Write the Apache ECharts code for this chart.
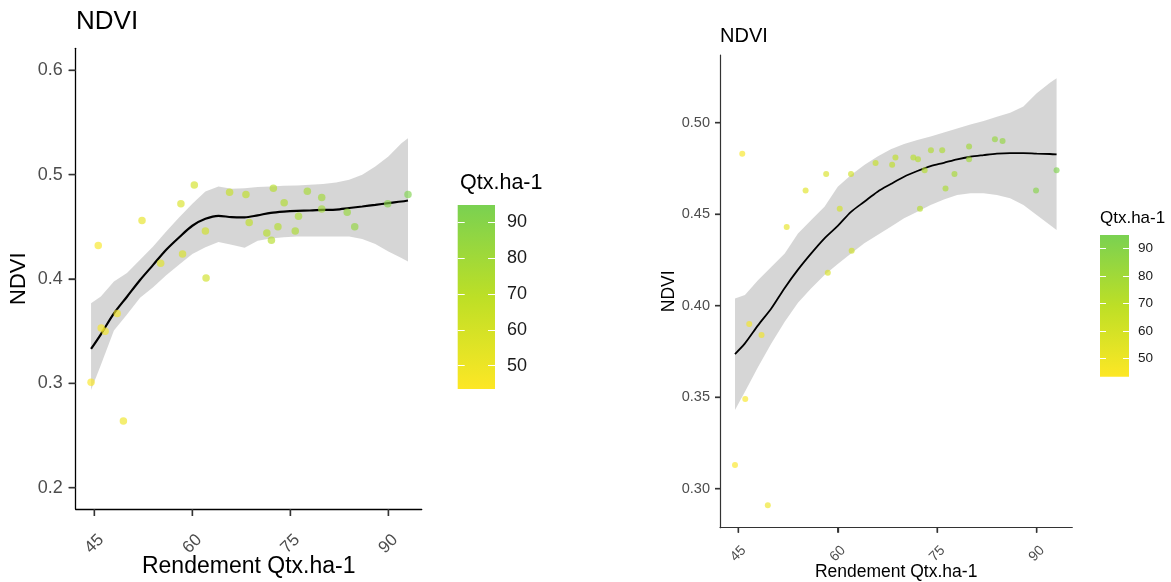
<!DOCTYPE html>
<html>
<head>
<meta charset="utf-8">
<script src="https://cdn.jsdelivr.net/npm/echarts@6/dist/echarts.min.js"></script>
<style>
  html, body { margin: 0; padding: 0; background: #fff; }
  #main { width: 1171px; height: 582px; }
</style>
</head>
<body>
<div id="main"></div>
<script>
// rendement (Qtx/ha), same plots for both panels
var yieldQtx = [44.5, 45.6, 46.05, 46.65, 48.5, 49.45, 52.3, 55.15, 58.25, 58.5, 60.3, 62.0, 62.1, 65.7, 68.2,
  68.7, 71.4, 72.1, 72.4, 73.1, 74.05, 75.75, 76.25, 77.6, 79.8, 79.8, 83.7, 84.85, 89.9, 93.0];
var ndviLeft = [0.301, 0.432, 0.353, 0.350, 0.367, 0.264, 0.456, 0.415, 0.472, 0.424, 0.490, 0.446, 0.401, 0.483, 0.481,
  0.454, 0.444, 0.437, 0.487, 0.450, 0.473, 0.446, 0.460, 0.484, 0.478, 0.467, 0.464, 0.450, 0.472, 0.481];
var ndviRight = [0.313, 0.483, 0.349, 0.390, 0.384, 0.291, 0.443, 0.463, 0.472, 0.418, 0.453, 0.472, 0.430, 0.478, 0.477,
  0.481, 0.481, 0.480, 0.453, 0.474, 0.485, 0.485, 0.464, 0.472, 0.487, 0.480, 0.491, 0.490, 0.463, 0.474];

// smooth curve + confidence band
var fitX = [44.5, 46, 48, 50, 52, 54, 56, 58, 60, 62, 64, 66, 68, 70, 72, 74, 76, 78, 80, 82, 84, 86, 88, 90, 92, 93];
var fitLeft = [0.333, 0.347, 0.367, 0.383, 0.399, 0.4135, 0.428, 0.440, 0.451, 0.4576, 0.4605, 0.4592, 0.459, 0.461,
  0.4634, 0.4646, 0.4653, 0.4656, 0.4662, 0.4665, 0.468, 0.4694, 0.471, 0.4727, 0.4742, 0.4752];
var upLeft = [0.3768, 0.3831, 0.3975, 0.4056, 0.4183, 0.4311, 0.4455, 0.4592, 0.472, 0.4838, 0.4886, 0.4864, 0.487,
  0.488, 0.4886, 0.4892, 0.4895, 0.4902, 0.4911, 0.4924, 0.495, 0.4998, 0.5077, 0.5173, 0.5301, 0.5349];
var lowLeft = [0.2937, 0.3176, 0.3507, 0.366, 0.382, 0.392, 0.4036, 0.4138, 0.4238, 0.4305, 0.4353, 0.4327, 0.4298,
  0.4365, 0.4387, 0.440, 0.4407, 0.4407, 0.4407, 0.4407, 0.4407, 0.4384, 0.4336, 0.4263, 0.42, 0.4168];
var fitRight = [0.3736, 0.3794, 0.3894, 0.3986, 0.4097, 0.4197, 0.4286, 0.4368, 0.4436, 0.4513, 0.4568, 0.4623, 0.4665,
  0.4705, 0.4736, 0.4763, 0.4781, 0.48, 0.4814, 0.4823, 0.4831, 0.4834, 0.4834, 0.4831, 0.4829, 0.4827];
var upRight = [0.404, 0.4058, 0.414, 0.4213, 0.4286, 0.4395, 0.4468, 0.4541, 0.465, 0.4714, 0.4769, 0.4815, 0.4855,
  0.4884, 0.4906, 0.4924, 0.4946, 0.4968, 0.499, 0.501, 0.5033, 0.5055, 0.5088, 0.5161, 0.5219, 0.5243];
var lowRight = [0.343, 0.353, 0.3667, 0.3795, 0.3913, 0.4016, 0.4095, 0.4168, 0.4228, 0.4286, 0.4341, 0.4386, 0.4432,
  0.4478, 0.4514, 0.455, 0.4581, 0.4605, 0.4614, 0.4614, 0.4605, 0.4587, 0.455, 0.4496, 0.4441, 0.4414];

// tick labels
var xTicks = [45, 60, 75, 90];
var yTicksLeft = [0.2, 0.3, 0.4, 0.5, 0.6];
var yTicksRight = [0.30, 0.35, 0.40, 0.45, 0.50];
var legendTicks = [50, 60, 70, 80, 90];
var colorMin = 43.5, colorMax = 94.8;
var ramp = ['#FDE725', '#BDDF26', '#7AD151'];

var FONT = '"Liberation Sans", Arial, sans-serif';

// axis ranges of the two panels
var rangeLeft = { x: [42.15, 95.1], y: [0.1796, 0.621] };
var rangeRight = { x: [42.24, 95.37], y: [0.2787, 0.537] };

function pairs(xs, ys) {
  return xs.map(function (x, i) { return [x, ys[i]]; });
}

function bandSeries(idx, lows, ups) {
  return {
    type: 'custom',
    xAxisIndex: idx, yAxisIndex: idx,
    z: 3,
    silent: true,
    data: fitX.map(function (x, i) { return [x, lows[i], ups[i]]; }),
    encode: { x: 0, y: [1, 2] },
    renderItem: function (params, api) {
      if (params.dataIndex !== 0) return;
      var pts = [];
      for (var i = 0; i < fitX.length; i++) pts.push(api.coord([fitX[i], ups[i]]));
      for (var j = fitX.length - 1; j >= 0; j--) pts.push(api.coord([fitX[j], lows[j]]));
      return { type: 'polygon', shape: { points: pts }, style: { fill: 'rgba(153,153,153,0.4)' } };
    }
  };
}

// tick marks as thin rect symbols sitting on the axis lines, outside the plot
function tickSeries(idx, range, yTicks, len) {
  return [
    {
      type: 'scatter', xAxisIndex: idx, yAxisIndex: idx, z: 20, silent: true, clip: false,
      symbol: 'rect', symbolSize: [1.4, len], symbolOffset: [0, len / 2],
      itemStyle: { color: '#333', opacity: 1 },
      data: xTicks.map(function (v) { return [v, range.y[0]]; })
    },
    {
      type: 'scatter', xAxisIndex: idx, yAxisIndex: idx, z: 20, silent: true, clip: false,
      symbol: 'rect', symbolSize: [len, 1.4], symbolOffset: [-len / 2, 0],
      itemStyle: { color: '#333', opacity: 1 },
      data: yTicks.map(function (v) { return [range.x[0], v]; })
    }
  ];
}

function xAxisCfg(grid, range, o) {
  return {
    gridIndex: grid, type: 'value', min: range.x[0], max: range.x[1], z: 10,
    splitLine: { show: false },
    axisLine: { show: true, lineStyle: { color: o.lineColor, width: o.lineWidth } },
    axisTick: { show: true, inside: false, customValues: xTicks, length: o.tick, lineStyle: { color: '#333', width: 1.3 } },
    axisLabel: {
      customValues: xTicks, rotate: 45, align: 'center', verticalAlign: 'middle',
      margin: o.margin, fontSize: o.fontSize, color: '#4d4d4d', fontFamily: FONT
    },
    name: 'Rendement Qtx.ha-1', nameLocation: 'middle', nameGap: o.nameGap, nameMoveOverlap: false,
    nameTextStyle: { fontSize: o.nameSize, color: '#000', fontFamily: FONT }
  };
}

function yAxisCfg(grid, range, ticks, digits, o) {
  return {
    gridIndex: grid, type: 'value', min: range.y[0], max: range.y[1], z: 10,
    splitLine: { show: false },
    axisLine: { show: true, lineStyle: { color: o.lineColor, width: o.lineWidth } },
    axisTick: { show: true, inside: false, customValues: ticks, length: o.tick, lineStyle: { color: '#333', width: 1.3 } },
    axisLabel: {
      customValues: ticks, margin: o.margin, fontSize: o.fontSize, color: '#4d4d4d', fontFamily: FONT,
      formatter: function (v) { return v.toFixed(digits); }
    },
    name: 'NDVI', nameLocation: 'middle', nameGap: o.nameGap, nameMoveOverlap: false,
    nameTextStyle: { fontSize: o.nameSize, color: '#000', fontFamily: FONT }
  };
}

function legendAxes(grid, o) {
  var common = {
    gridIndex: grid, type: 'value', min: colorMin, max: colorMax, z: 50,
    splitLine: { show: false }, axisLine: { show: false }
  };
  return [
    Object.assign({}, common, {
      position: 'left',
      axisTick: { show: true, inside: true, customValues: legendTicks, length: o.tick, lineStyle: { color: '#fff', width: 1 } },
      axisLabel: { show: false }
    }),
    Object.assign({}, common, {
      position: 'right',
      axisTick: { show: true, inside: true, customValues: legendTicks, length: o.tick, lineStyle: { color: '#fff', width: 1 } },
      axisLabel: { customValues: legendTicks, margin: o.margin, fontSize: o.fontSize, color: '#1a1a1a', fontFamily: FONT }
    })
  ];
}

function colorBar(x, y, w, h) {
  var stops = ramp.map(function (c, i) { return { offset: 1 - i / (ramp.length - 1), color: c }; });
  return {
    type: 'rect', left: x, top: y, z: 1,
    shape: { width: w, height: h },
    style: { fill: { type: 'linear', x: 0, y: 0, x2: 0, y2: 1, colorStops: stops.reverse() } }
  };
}

var chart = echarts.init(document.getElementById('main'));

var leftX = { lineColor: '#000', lineWidth: 1.3, tick: 7, margin: 35, fontSize: 17, nameGap: 46, nameSize: 23 };
var leftY = { lineColor: '#000', lineWidth: 1.3, tick: 7, margin: 13, fontSize: 18, nameGap: 46, nameSize: 22 };
var rightX = { lineColor: '#333', lineWidth: 1.2, tick: 5, margin: 26, fontSize: 14, nameGap: 35, nameSize: 17.5 };
var rightY = { lineColor: '#333', lineWidth: 1.2, tick: 5, margin: 10, fontSize: 14.5, nameGap: 42, nameSize: 17.5 };

var option = {
  animation: false,
  backgroundColor: '#fff',
  title: [
    { text: 'NDVI', left: 76, top: 9, padding: 0, textStyle: { fontSize: 26, fontWeight: 'normal', color: '#000', fontFamily: FONT } },
    { text: 'NDVI', left: 720, top: 26, padding: 0, textStyle: { fontSize: 20, fontWeight: 'normal', color: '#000', fontFamily: FONT } },
    { text: 'Qtx.ha-1', left: 460, top: 172, padding: 0, textStyle: { fontSize: 21.5, fontWeight: 'normal', color: '#000', fontFamily: FONT } },
    { text: 'Qtx.ha-1', left: 1100, top: 210, padding: 0, textStyle: { fontSize: 17, fontWeight: 'normal', color: '#000', fontFamily: FONT } }
  ],
  grid: [
    { left: 75.7, top: 48.3, width: 346, height: 460.7, outerBoundsMode: 'none' },
    { left: 720, top: 55, width: 352.3, height: 472.7, outerBoundsMode: 'none' },
    { left: 457.7, top: 205, width: 37.3, height: 184, outerBoundsMode: 'none' },
    { left: 1100, top: 235, width: 29, height: 141.7, outerBoundsMode: 'none' }
  ],
  xAxis: [
    xAxisCfg(0, rangeLeft, leftX),
    xAxisCfg(1, rangeRight, rightX),
    { gridIndex: 2, type: 'value', show: false },
    { gridIndex: 3, type: 'value', show: false }
  ],
  yAxis: [
    yAxisCfg(0, rangeLeft, yTicksLeft, 1, leftY),
    yAxisCfg(1, rangeRight, yTicksRight, 2, rightY)
  ].concat(legendAxes(2, { tick: 7, margin: 12, fontSize: 18 }))
   .concat(legendAxes(3, { tick: 6, margin: 9, fontSize: 13.5 })),
  graphic: { elements: [colorBar(457.7, 205, 37.3, 184), colorBar(1100, 235, 29, 141.7)] },
  visualMap: [
    { show: false, seriesIndex: 0, dimension: 0, min: colorMin, max: colorMax, inRange: { color: ramp } },
    { show: false, seriesIndex: 3, dimension: 0, min: colorMin, max: colorMax, inRange: { color: ramp } }
  ],
  series: [
    {
      type: 'scatter', xAxisIndex: 0, yAxisIndex: 0, z: 5,
      symbolSize: 7.5, itemStyle: { opacity: 0.65 },
      data: pairs(yieldQtx, ndviLeft)
    },
    bandSeries(0, lowLeft, upLeft),
    {
      type: 'line', xAxisIndex: 0, yAxisIndex: 0, z: 4,
      showSymbol: false, smooth: 0.3,
      lineStyle: { color: '#000', width: 2.2 },
      data: pairs(fitX, fitLeft)
    },
    {
      type: 'scatter', xAxisIndex: 1, yAxisIndex: 1, z: 5,
      symbolSize: 6, itemStyle: { opacity: 0.65 },
      data: pairs(yieldQtx, ndviRight)
    },
    bandSeries(1, lowRight, upRight),
    {
      type: 'line', xAxisIndex: 1, yAxisIndex: 1, z: 4,
      showSymbol: false, smooth: 0.3,
      lineStyle: { color: '#000', width: 1.8 },
      data: pairs(fitX, fitRight)
    }
  ].concat(tickSeries(0, rangeLeft, yTicksLeft, 7))
   .concat(tickSeries(1, rangeRight, yTicksRight, 5))
};

chart.setOption(option);
</script>
</body>
</html>
